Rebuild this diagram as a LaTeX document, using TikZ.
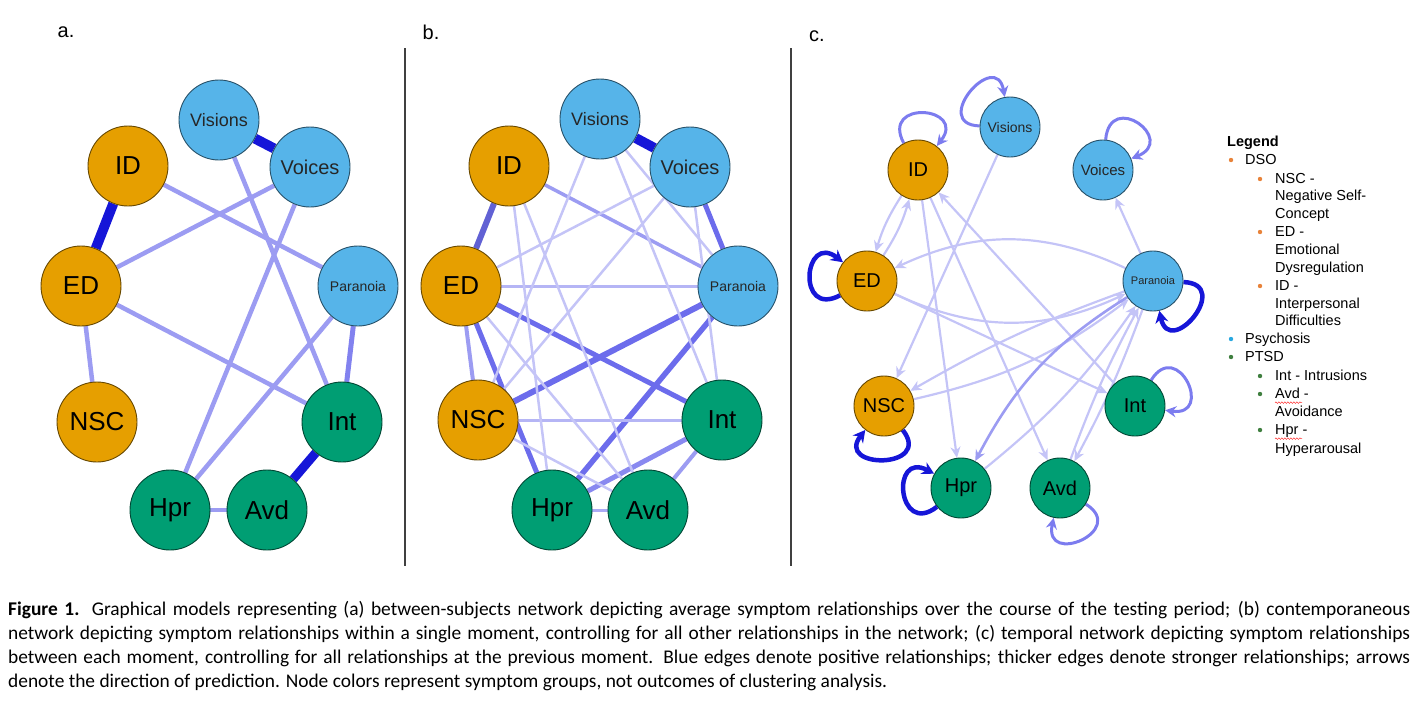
\documentclass[tikz,border=0pt]{standalone}
\usepackage{fontspec}
\setmainfont{Liberation Sans}
\newfontfamily\capfont{Carlito}
\usetikzlibrary{arrows.meta,backgrounds,decorations.pathmorphing}

\definecolor{dsoc}{HTML}{E69F00}
\definecolor{psyc}{HTML}{56B4E9}
\definecolor{ptsdc}{HTML}{009E73}
\definecolor{edgedark}{HTML}{1616D8}
\definecolor{edgemid}{HTML}{6C6CEC}
\definecolor{edgelight}{HTML}{9C9CF2}
\definecolor{edgepale}{HTML}{C4C4F7}
\definecolor{loopmidc}{HTML}{7C7CEF}
\definecolor{bulorange}{HTML}{E8833A}
\definecolor{bulblue}{HTML}{29A8E0}
\definecolor{bulgreen}{HTML}{3F7F3F}

\tikzset{
  sym/.style={circle, inner sep=0pt, line width=0.9pt, minimum size=80pt,
    font=\fontsize{26}{26}\selectfont},
  dso/.style={sym, draw=dsoc!45!black, fill=dsoc},
  psy/.style={sym, draw=psyc!45!black, fill=psyc, text=black!85},
  ptsd/.style={sym, draw=ptsdc!45!black, fill=ptsdc},
  sm/.style={minimum size=60pt, font=\fontsize{20}{20}\selectfont},
  wstrong/.style={draw=edgedark, line width=10pt},
  wmid/.style={draw=edgemid, line width=5pt},
  wweak/.style={draw=edgelight, line width=4.5pt},
  wfaint/.style={draw=edgepale, line width=2.5pt},
  tpale/.style={draw=edgepale, line width=2.2pt, -{Stealth[length=11pt,width=10pt]}},
  tmid/.style={draw=edgelight, line width=2.6pt, -{Stealth[length=11pt,width=10pt]}},
  selfloop/.style={loop, looseness=1, min distance=50pt},
  loopmid/.style={selfloop, draw=loopmidc, line width=3pt, -{Stealth[length=11pt,width=11pt]}},
  loopdark/.style={selfloop, draw=edgedark, line width=4.5pt, -{Stealth[length=12pt,width=13pt]}},
  plabel/.style={font=\fontsize{20}{20}\selectfont},
  legtxt/.style={anchor=mid west, inner sep=0pt, font=\fontsize{14.5}{14.5}\selectfont},
  captxt/.style={anchor=base west, inner sep=0pt, font=\capfont\fontsize{19.4}{19.4}\selectfont},
  squig/.style={red!80, line width=0.5pt, decorate,
    decoration={snake, amplitude=0.8pt, segment length=3pt}}
}

\begin{document}
\begin{tikzpicture}[x=1pt, y=-1pt]
  \useasboundingbox (0,0) rectangle (1422,716);

  % panel labels and separators
  \node[plabel] (la) at (66,32) {a.};
  \node[plabel] (lb) at (431,32) {b.};
  \node[plabel] (lc) at (817,36) {c.};
  \draw[black!75, line width=1.3pt] (405,48) -- (405,566);
  \draw[black!75, line width=1.3pt] (791,48) -- (791,566);

  % (a) between-subjects
  \node[psy, font=\fontsize{18}{18}\selectfont] (aVis) at (219,120) {Visions};
  \node[psy, font=\fontsize{20}{20}\selectfont] (aVoi) at (310,167) {Voices};
  \node[dso] (aID)  at (128,166) {ID};
  \node[dso] (aED)  at (81,286)  {ED};
  \node[psy, font=\fontsize{14}{14}\selectfont] (aPar) at (358,286) {Paranoia};
  \node[dso] (aNSC) at (97,422)  {NSC};
  \node[ptsd] (aInt) at (342,422) {Int};
  \node[ptsd] (aHpr) at (170,510) {Hpr};
  \node[ptsd] (aAvd) at (267,510) {Avd};

  \begin{scope}[on background layer]
  \path (aVis) edge[wstrong] (aVoi)
        (aID)  edge[wstrong] (aED)
        (aInt) edge[wstrong, line width=9pt] (aAvd)
        (aPar) edge[wmid, draw=edgemid!85!white] (aInt)
        (aID)  edge[wweak] (aPar)
        (aVoi) edge[wweak] (aED)
        (aVis) edge[wweak] (aInt)
        (aVoi) edge[wweak] (aHpr)
        (aPar) edge[wweak] (aHpr)
        (aED)  edge[wweak] (aInt)
        (aED)  edge[wweak] (aNSC)
        (aHpr) edge[wweak] (aAvd);
  \end{scope}

  % (b) contemporaneous
  \node[psy, font=\fontsize{18}{18}\selectfont] (bVis) at (600,119) {Visions};
  \node[psy, font=\fontsize{20}{20}\selectfont] (bVoi) at (690,167) {Voices};
  \node[dso] (bID)  at (509,166) {ID};
  \node[dso] (bED)  at (461,286) {ED};
  \node[psy, font=\fontsize{14}{14}\selectfont] (bPar) at (738,286) {Paranoia};
  \node[dso] (bNSC) at (478,420) {NSC};
  \node[ptsd] (bInt) at (722,420) {Int};
  \node[ptsd] (bHpr) at (552,510) {Hpr};
  \node[ptsd] (bAvd) at (648,510) {Avd};

  \begin{scope}[on background layer]
  \path (bVis) edge[wstrong] (bVoi)
        (bID)  edge[wmid, line width=6pt, draw=edgemid!90!black] (bED)
        (bVoi) edge[wmid] (bPar)
        (bED)  edge[wmid] (bInt)
        (bED)  edge[wmid] (bHpr)
        (bPar) edge[wmid, line width=6pt] (bNSC)
        (bPar) edge[wmid, line width=5.5pt] (bHpr)
        (bHpr) edge[wmid, draw=edgemid!80!white] (bInt)
        (bED)  edge[wweak, line width=4pt] (bNSC)
        (bInt) edge[wweak, line width=4pt] (bAvd)
        (bID)  edge[wweak, line width=3.5pt] (bPar)
        (bNSC) edge[wfaint, draw=edgelight!75!white, line width=3pt] (bInt)
        (bED)  edge[wfaint, draw=edgelight!75!white, line width=3pt] (bPar)
        (bHpr) edge[wfaint, draw=edgelight!85!white, line width=3pt] (bAvd)
        (bVoi) edge[wfaint] (bED)
        (bVoi) edge[wfaint] (bNSC)
        (bVis) edge[wfaint] (bNSC)
        (bVis) edge[wfaint] (bInt)
        (bVis) edge[wfaint] (bPar)
        (bVoi) edge[wfaint] (bInt)
        (bID)  edge[wfaint] (bHpr)
        (bID)  edge[wfaint] (bAvd)
        (bED)  edge[wfaint] (bAvd)
        (bNSC) edge[wfaint] (bAvd);
  \end{scope}

  % (c) temporal
  \node[psy, sm, font=\fontsize{14}{14}\selectfont] (cVis) at (1010,127) {Visions};
  \node[dso, sm] (cID)  at (918,170) {ID};
  \node[psy, sm, font=\fontsize{15}{15}\selectfont] (cVoi) at (1103,170) {Voices};
  \node[dso, sm] (cED)  at (867,281) {ED};
  \node[psy, sm, font=\fontsize{11}{11}\selectfont] (cPar) at (1153,281) {Paranoia};
  \node[dso, sm] (cNSC) at (884,406) {NSC};
  \node[ptsd, sm] (cInt) at (1135,406) {Int};
  \node[ptsd, sm] (cHpr) at (961,488) {Hpr};
  \node[ptsd, sm] (cAvd) at (1060,488) {Avd};

  \begin{scope}[on background layer]
  \path (cID)  edge[tpale, bend right=8] (cED)
        (cED)  edge[tpale, bend right=8] (cID)
        (cVis) edge[tpale] (cNSC)
        (cID)  edge[tpale] (cHpr)
        (cID)  edge[tpale] (cAvd)
        (cInt) edge[tpale] (cID)
        (cPar) edge[tpale] (cVoi)
        (cPar) edge[tpale, bend right=25] (cED)
        (cED)  edge[tpale, bend right=25] (cPar)
        (cED)  edge[tpale] (cInt)
        (cPar) edge[tpale, bend right=5] (cNSC)
        (cNSC) edge[tpale, bend right=12] (cPar)
        (cPar) edge[tmid, bend right=15] (cHpr)
        (cHpr) edge[tpale, bend right=8] (cPar)
        (cPar) edge[tpale, bend left=4] (cAvd)
        (cAvd) edge[tpale, bend left=4] (cPar);
  \path (cVis) edge[loopmid, out=178, in=100] (cVis)
        (cID)  edge[loopmid, out=118, in=52] (cID)
        (cVoi) edge[loopmid, out=85, in=22] (cVoi)
        (cED)  edge[loopdark, out=208, in=142] (cED)
        (cPar) edge[loopdark, out=-2, in=-78] (cPar)
        (cNSC) edge[loopdark, out=-52, in=-128] (cNSC)
        (cInt) edge[loopmid, out=58, in=-8] (cInt)
        (cHpr) edge[loopdark, out=218, in=152] (cHpr)
        (cAvd) edge[loopmid, out=-32, in=-102] (cAvd);
  \end{scope}

  % legend
  \node[legtxt, font=\fontsize{14.5}{14.5}\selectfont\bfseries] (lgTitle) at (1227,144) {Legend};
  \fill[bulorange] (1231,160) circle (2.2);
  \node[legtxt] (lgDSO) at (1245,162) {DSO};
  \fill[bulorange] (1260,179) circle (2.2);
  \fill[bulorange] (1260,232) circle (2.2);
  \fill[bulorange] (1260,286) circle (2.2);
  \node[legtxt] (lgNSC)  at (1275,181) {NSC -};
  \node[legtxt] (lgNSC2) at (1275,198) {Negative Self-};
  \node[legtxt] (lgNSC3) at (1275,216) {Concept};
  \node[legtxt] (lgED)   at (1275,234) {ED -};
  \node[legtxt] (lgED2)  at (1275,252) {Emotional};
  \node[legtxt] (lgED3)  at (1275,270) {Dysregulation};
  \node[legtxt] (lgID)   at (1275,288) {ID -};
  \node[legtxt] (lgID2)  at (1275,306) {Interpersonal};
  \node[legtxt] (lgID3)  at (1275,323) {Difficulties};
  \fill[bulblue] (1231,339) circle (2.2);
  \node[legtxt] (lgPsy) at (1245,341) {Psychosis};
  \fill[bulgreen] (1231,357) circle (2.2);
  \node[legtxt] (lgPTSD) at (1245,359) {PTSD};
  \fill[bulgreen] (1260,376) circle (2.2);
  \fill[bulgreen] (1260,394) circle (2.2);
  \fill[bulgreen] (1260,430) circle (2.2);
  \node[legtxt] (lgInt)  at (1275,378) {Int - Intrusions};
  \node[legtxt] (lgAvd)  at (1275,396) {Avd -};
  \node[legtxt] (lgAvd2) at (1275,414) {Avoidance};
  \node[legtxt] (lgHpr)  at (1275,432) {Hpr -};
  \node[legtxt] (lgHpr2) at (1275,451) {Hyperarousal};
  \draw[squig] ([yshift=-4pt]lgAvd.base west) -- ++(27,0);
  \draw[squig] ([yshift=-4pt]lgHpr.base west) -- ++(27,0);

  % caption
  \node[captxt] (cap1) at (8,615) {\makebox[1402pt][s]{\textbf{Figure 1.} Graphical models representing (a) between-subjects network depicting average symptom relationships over the course of the testing period; (b) contemporaneous}};
  \node[captxt] (cap2) at (8,639) {\makebox[1402pt][s]{network depicting symptom relationships within a single moment, controlling for all other relationships in the network; (c) temporal network depicting symptom relationships}};
  \node[captxt] (cap3) at (8,663) {\makebox[1402pt][s]{between each moment, controlling for all relationships at the previous moment. Blue edges denote positive relationships; thicker edges denote stronger relationships; arrows}};
  \node[captxt] (cap4) at (8,687) {denote the direction of prediction. Node colors represent symptom groups, not outcomes of clustering analysis.};
\end{tikzpicture}
\end{document}
